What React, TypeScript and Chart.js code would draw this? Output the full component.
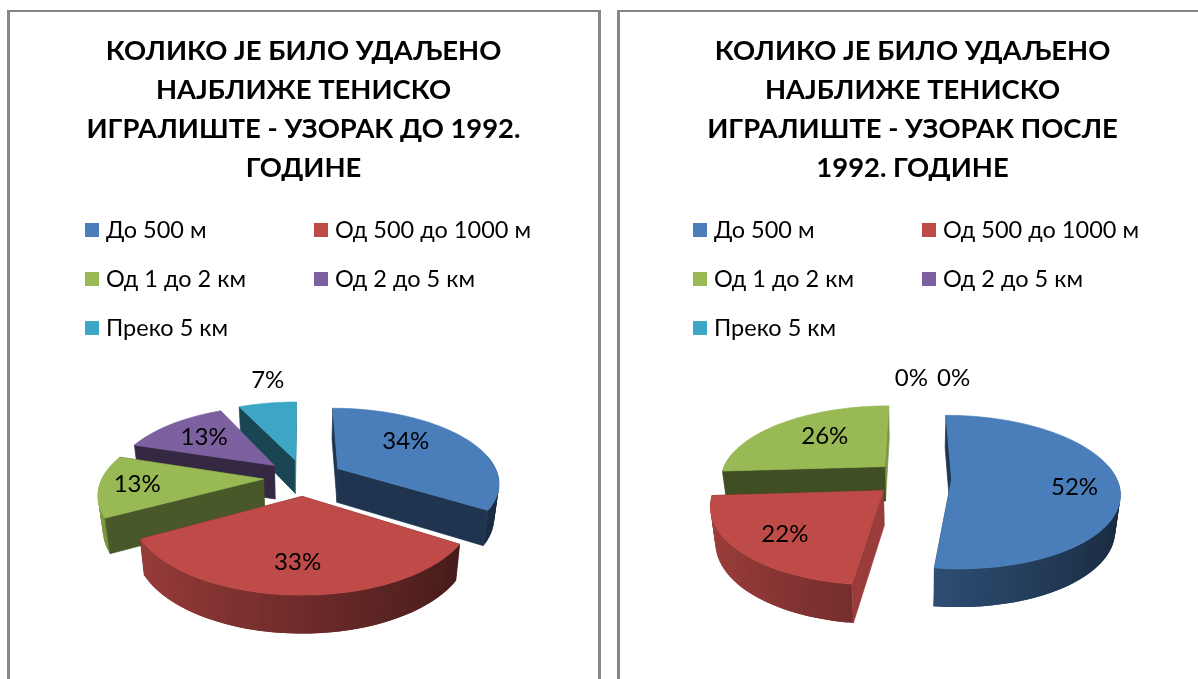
import React, { useEffect, useRef } from "react";
import { Chart, registerables } from "chart.js";

Chart.register(...registerables);

const categories = ["До 500 м", "Од 500 до 1000 м", "Од 1 до 2 км", "Од 2 до 5 км", "Преко 5 км"];
const valuesBefore = [34, 33, 13, 13, 7];
const valuesAfter = [52, 22, 26, 0, 0];
const titleBefore = ["КОЛИКО ЈЕ БИЛО УДАЉЕНО", "НАЈБЛИЖЕ ТЕНИСКО", "ИГРАЛИШТЕ - УЗОРАК ДО 1992.", "ГОДИНЕ"];
const titleAfter = ["КОЛИКО ЈЕ БИЛО УДАЉЕНО", "НАЈБЛИЖЕ ТЕНИСКО", "ИГРАЛИШТЕ - УЗОРАК ПОСЛЕ", "1992. ГОДИНЕ"];
const colors = ["#4a7ebb", "#be4b48", "#98b954", "#7d60a0", "#3ca6c4"];

const FONT = "Lato, 'Noto Sans', sans-serif";
const rgb = (hex: string, f: number) => {
  const n = parseInt(hex.slice(1), 16);
  return `rgb(${Math.round(((n >> 16) & 255) * f)},${Math.round(((n >> 8) & 255) * f)},${Math.round((n & 255) * f)})`;
};

const pie3d = {
  id: "pie3d",
  beforeDatasetDraw(chart: any, args: any, o: any) {
    const ctx = chart.ctx;
    const meta = chart.getDatasetMeta(args.index);
    const dataset = chart.data.datasets[args.index];
    const project = (X: number, Y: number, cx: number, cy: number, low: boolean) => {
      const s = 1 / (1 - o.persp * Y);
      const px = cx + X * s;
      const py = cy + o.tilt * Y * s;
      return low ? [cx + (px - cx) * 0.975, py + o.depth * Math.sqrt(s)] : [px, py];
    };
    const slices = meta.data
      .map((el: any, i: number) => {
        const p = el.getProps(["x", "y", "startAngle", "endAngle", "outerRadius"], true);
        const mid = (p.startAngle + p.endAngle) / 2;
        return { i, p, mid, d: el.options.offset, size: p.endAngle - p.startAngle };
      })
      .filter((s: any) => s.size > 0)
      .sort((a: any, b: any) => Math.sin(a.mid) - Math.sin(b.mid));

    const poly = (pts: number[][], fill: any, edge = true) => {
      ctx.beginPath();
      pts.forEach((q, k) => (k ? ctx.lineTo(q[0], q[1]) : ctx.moveTo(q[0], q[1])));
      ctx.closePath();
      ctx.fillStyle = fill;
      ctx.fill();
      if (edge) {
        ctx.strokeStyle = fill;
        ctx.lineWidth = 0.7;
        ctx.stroke();
      }
    };

    ctx.save();
    for (const s of slices) {
      const { p, mid, d } = s;
      const base = colors[s.i];
      const ox = d * Math.cos(mid);
      const oy = d * Math.sin(mid);
      const R = p.outerRadius;
      const n = Math.max(4, Math.ceil(s.size / 0.03));
      const rimAngles: number[] = [];
      for (let k = 0; k <= n; k++) rimAngles.push(p.startAngle + (s.size * k) / n);
      const at = (a: number, low: boolean) =>
        project(ox + R * Math.cos(a), oy + R * Math.sin(a), p.x, p.y, low);
      const apexTop = project(ox, oy, p.x, p.y, false);
      const apexLow = project(ox, oy, p.x, p.y, true);

      const wallShade = (normal: number) => Math.max(0.42, 0.42 + (Math.cos(normal) - 0.4) * 0.65);
      const walls = [
        { a: p.startAngle, nrm: p.startAngle - Math.PI / 2 },
        { a: p.endAngle, nrm: p.endAngle + Math.PI / 2 },
      ];
      const drawWall = (w: { a: number; nrm: number }) =>
        poly([apexTop, at(w.a, false), at(w.a, true), apexLow], rgb(base, wallShade(w.nrm)));

      // walls that turn away from the viewer, then the rim, then the walls facing the viewer
      walls.filter((w) => Math.sin(w.nrm) < 0).forEach(drawWall);
      const order = rimAngles
        .slice(0, n)
        .map((a, k) => ({ a0: a, a1: rimAngles[k + 1], over: rimAngles[Math.min(k + 2, n)] }))
        .filter((band) => Math.sin((band.a0 + band.a1) / 2) > -0.2);
      for (const band of order) {
        const shade = 0.58 - 0.25 * Math.cos((band.a0 + band.a1) / 2);
        poly(
          [at(band.a0, false), at(band.over, false), at(band.over, true), at(band.a0, true)],
          rgb(base, shade),
          false
        );
      }
      walls.filter((w) => Math.sin(w.nrm) >= 0).forEach(drawWall);
      poly([apexTop, ...rimAngles.map((a) => at(a, false))], base);
    }

    // data labels
    ctx.fillStyle = "#000";
    ctx.font = `${o.labelSize}px ${FONT}`;
    ctx.textAlign = "center";
    ctx.textBaseline = "middle";
    meta.data.forEach((el: any, i: number) => {
      const p = el.getProps(["x", "y", "startAngle", "endAngle", "outerRadius"], true);
      const a = (p.startAngle + p.endAngle) / 2 + (o.labelTurn[i] * Math.PI) / 180;
      const r = o.labelReach[i] * p.outerRadius;
      const q = project(r * Math.cos(a), r * Math.sin(a), p.x, p.y, false);
      ctx.fillText(`${dataset.data[i]}%`, q[0], q[1]);
    });
    ctx.restore();
    return false;
  },
  afterDraw(chart: any, _a: any, o: any) {
    const ctx = chart.ctx;
    ctx.save();
    ctx.font = `${o.legendSize}px ${FONT}`;
    ctx.textBaseline = "middle";
    ctx.textAlign = "left";
    chart.data.labels.forEach((label: string, i: number) => {
      const col = i % 2;
      const row = Math.floor(i / 2);
      const x = o.legendX + col * o.legendColGap;
      const y = o.legendY + row * o.legendRowGap;
      ctx.fillStyle = colors[i];
      ctx.fillRect(x, y - 7, 14, 14);
      ctx.fillStyle = "#000";
      ctx.fillText(label, x + 21, y);
    });
    ctx.restore();
  },
};

type PanelCfg = {
  values: number[];
  title: string[];
  radius: number;
  explode: number;
  height: number;
  plugin: any;
};

function PieChart({ cfg, width }: { cfg: PanelCfg; width: number }) {
  const ref = useRef<HTMLCanvasElement>(null);
  useEffect(() => {
    const chart = new Chart(ref.current as HTMLCanvasElement, {
      type: "pie",
      plugins: [pie3d],
      data: {
        labels: categories,
        datasets: [
          {
            data: cfg.values,
            backgroundColor: colors,
            borderWidth: 0,
            offset: cfg.explode,
            radius: cfg.radius,
          } as any,
        ],
      },
      options: {
        responsive: false,
        animation: false,
        layout: { padding: 0 },
        plugins: {
          legend: { display: false },
          tooltip: { enabled: false },
          title: {
            display: true,
            text: cfg.title,
            color: "#000",
            align: "center",
            font: { family: FONT, size: 27.4, weight: "bold", lineHeight: 39 / 27.4 },
            padding: { top: 15.5, bottom: 0 },
          },
          pie3d: cfg.plugin,
        } as any,
      },
    });
    return () => chart.destroy();
  }, [cfg]);
  return <canvas ref={ref} width={width} height={cfg.height} style={{ display: "block", marginTop: 4 }} />;
}

const before: PanelCfg = {
  values: valuesBefore,
  title: titleBefore,
  radius: 161,
  explode: 40,
  height: 751,
  plugin: {
    persp: 0.00109,
    tilt: 0.458,
    depth: 34,
    labelSize: 24,
    labelReach: [0.88, 0.96, 1.02, 0.91, 1.73],
    labelTurn: [-9, 0, 0, 0, 3],
    legendSize: 23.5,
    legendX: 75,
    legendY: 214,
    legendColGap: 229,
    legendRowGap: 49,
  },
};

const after: PanelCfg = {
  values: valuesAfter,
  title: titleAfter,
  radius: 165,
  explode: 39,
  height: 753,
  plugin: {
    persp: 0.001,
    tilt: 0.45,
    depth: 35,
    labelSize: 24,
    labelReach: [0.97, 0.96, 0.855, 1.73, 1.76],
    labelTurn: [3.6, -1, 3.5, -0.3, 10.5],
    legendSize: 23.5,
    legendX: 73,
    legendY: 214,
    legendColGap: 229,
    legendRowGap: 49,
  },
};

const panelStyle = (left: number, width: number): React.CSSProperties => ({
  position: "absolute",
  left,
  top: 10,
  width,
  height: 720,
  boxSizing: "border-box",
  border: "3px solid #868686",
  borderTopWidth: 2,
  overflow: "hidden",
  background: "#fff",
});

export default function App() {
  return (
    <div style={{ position: "fixed", inset: 0, overflow: "hidden", background: "#fff" }}>
      <div style={panelStyle(7, 594)}>
        <PieChart cfg={before} width={587} />
      </div>
      <div style={panelStyle(617, 600)}>
        <PieChart cfg={after} width={585} />
      </div>
    </div>
  );
}
